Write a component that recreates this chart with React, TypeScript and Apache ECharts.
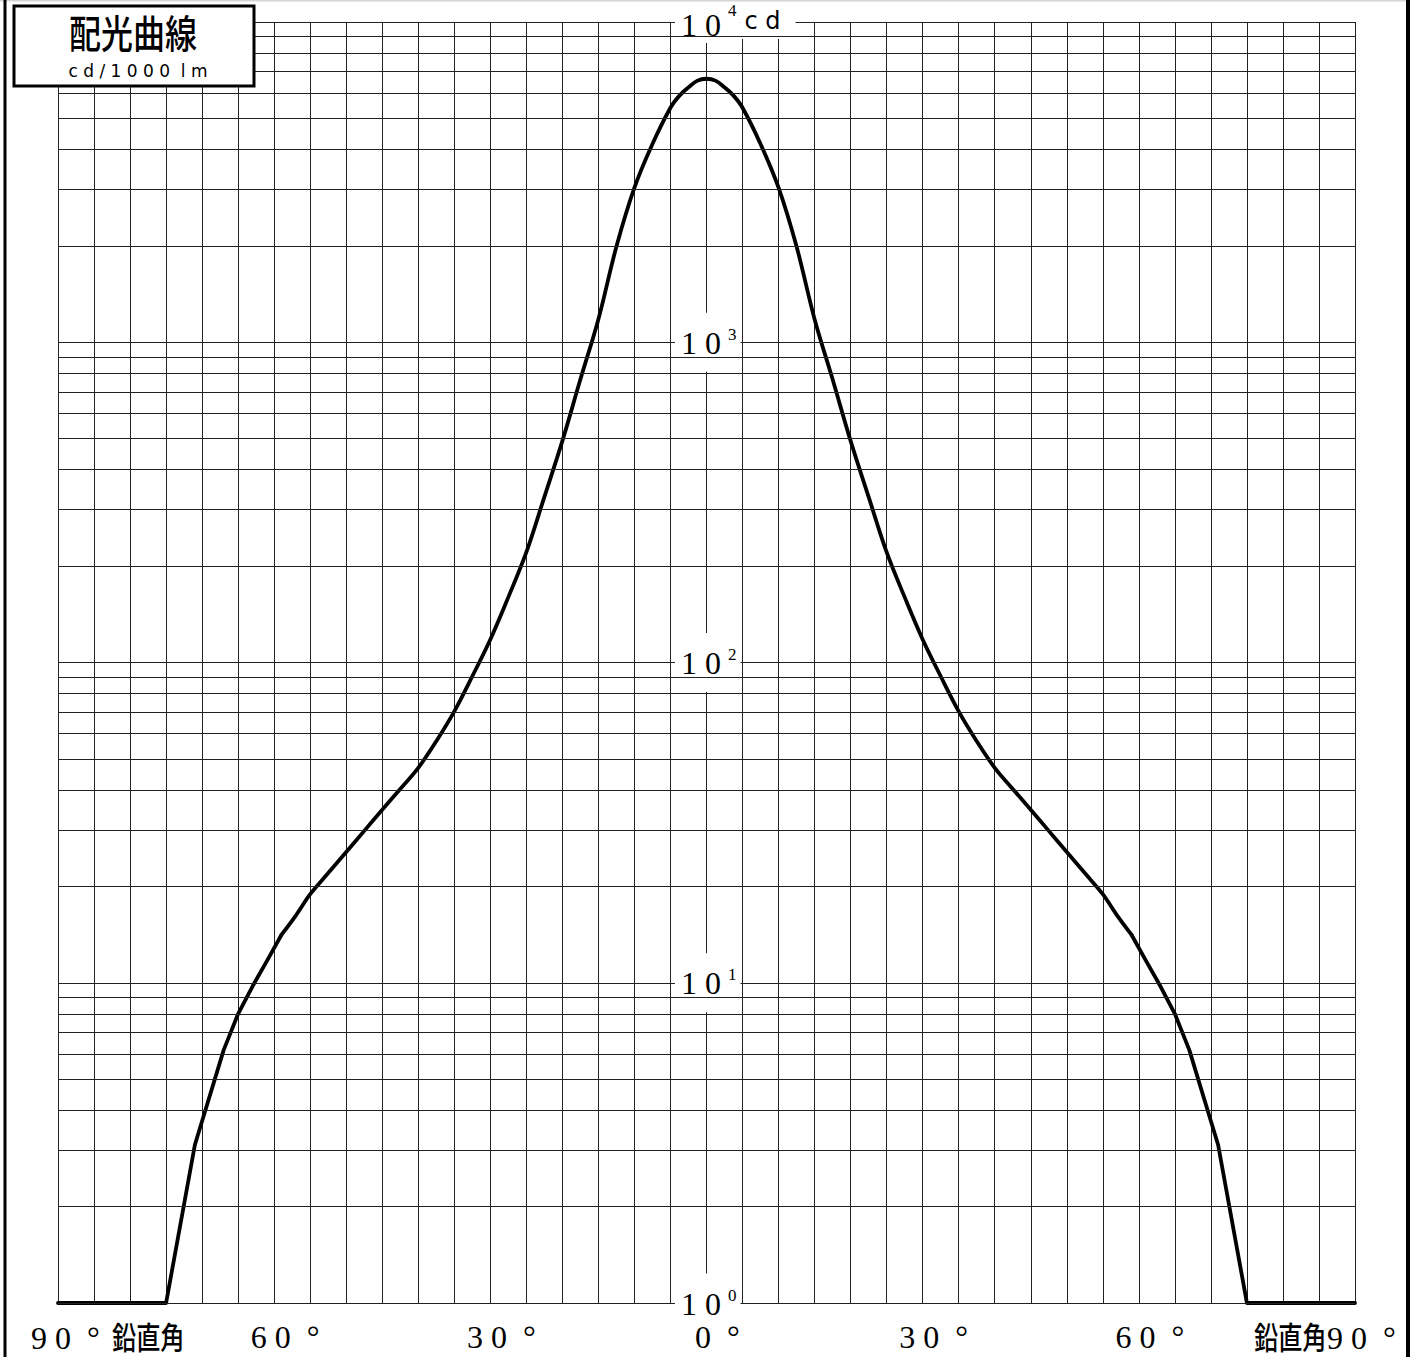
import { useEffect, useRef } from "react";
import * as echarts from "echarts";

// vertical angle (deg) and luminous intensity (cd/1000 lm)
const angles = [
  -90, -85, -80, -75, -71, -67, -65, -63, -61, -59, -57, -55, -52.5, -50, -47.5, -45, -42.5, -40,
  -37.5, -35, -32.5, -30, -27.5, -25, -22.5, -20, -17.5, -15, -12.5, -10, -7.5, -5, -3.75, -2.5,
  -1.25, 0, 1.25, 2.5, 3.75, 5, 7.5, 10, 12.5, 15, 17.5, 20, 22.5, 25, 27.5, 30, 32.5, 35, 37.5,
  40, 42.5, 45, 47.5, 50, 52.5, 55, 57, 59, 61, 63, 65, 67, 71, 75, 80, 85, 90,
];
const intensity = [
  1, 1, 1, 1, 3.12, 6.17, 8.0, 9.75, 11.7, 14.1, 16.2, 18.9, 22.0, 25.6, 29.8, 34.7, 40.3, 46.9,
  56.8, 70.4, 90.6, 118, 160, 221, 329, 492, 766, 1180, 1990, 3040, 4160, 5400, 5890, 6250,
  6560, 6650, 6560, 6250, 5890, 5400, 4160, 3040, 1990, 1180, 766, 492, 329, 221, 160, 118, 90.6,
  70.4, 56.8, 46.9, 40.3, 34.7, 29.8, 25.6, 22.0, 18.9, 16.2, 14.1, 11.7, 9.75, 8.0, 6.17, 3.12, 1,
  1, 1, 1,
];
// angles bounding the smoothly drawn central part of the curve
const smoothFrom = -59;
const smoothTo = 59;

const xTickValues = [-60, -30, 0, 30, 60];
const xTickLabels = ["6 0  °", "3 0  °", "0  °", "3 0  °", "6 0  °"];
const yExponents = ["0", "1", "2", "3", "4"];
const yBaseLabel = "1 0";
const yUnitLabel = "c d";
const minorGridValues = [
  2, 3, 4, 5, 6, 7, 8, 9, 20, 30, 40, 50, 60, 70, 80, 90, 200, 300, 400, 500, 600, 700, 800, 900,
  2000, 3000, 4000, 5000, 6000, 7000, 8000, 9000,
];
const titleText = "配光曲線";
const unitText = "c d / 1 0 0 0  l m";
const endWord = "鉛直角";
const endAngle = "9 0  °";

const SERIF = "'Liberation Serif', 'DejaVu Serif', serif";
const CJK = "'Noto Sans CJK JP', 'Noto Sans CJK SC', sans-serif";
const GRID = "#222";

export default function App() {
  const ref = useRef<HTMLDivElement>(null);
  useEffect(() => {
    if (!ref.current) return;
    const chart = echarts.init(ref.current, undefined, { renderer: "svg" });
    const pts = angles.map((a, i) => [a, intensity[i]]);
    const leftTail = pts.filter((p) => p[0] <= smoothFrom);
    const center = pts.filter((p) => p[0] >= smoothFrom && p[0] <= smoothTo);
    const rightTail = pts.filter((p) => p[0] >= smoothTo);
    const lineBase = {
      type: "line",
      xAxisIndex: 0,
      yAxisIndex: 0,
      z: 2,
      showSymbol: false,
      symbol: "none",
      lineStyle: { color: "#000", width: 3.8, cap: "round", join: "round" },
      clip: true,
    };
    const option: any = {
      animation: false,
      backgroundColor: "#fff",
      grid: { left: 58, top: 22, width: 1297, height: 1281, containLabel: false, outerBoundsMode: "none" },
      xAxis: [
        {
          type: "value",
          position: "bottom",
          min: -90,
          max: 90,
          interval: 5,
          z: 0,
          axisLine: { show: false, onZero: false },
          axisTick: { show: false },
          axisLabel: { show: false },
          splitLine: { show: true, lineStyle: { color: GRID, width: 1 } },
        },
        {
          type: "value",
          position: "bottom",
          min: -90,
          max: 90,
          interval: 5,
          z: 6,
          axisLine: { show: false, onZero: false },
          axisTick: { show: false },
          splitLine: { show: false },
          axisLabel: {
            show: true,
            margin: 18,
            fontFamily: SERIF,
            fontSize: 32,
            lineHeight: 32,
            color: "#000",
            padding: [0, 0, 0, 22],
            showMinLabel: true,
            showMaxLabel: true,
            formatter: (v: number) => {
              const i = xTickValues.indexOf(Math.round(v));
              return i >= 0 ? xTickLabels[i] : "";
            },
          },
        },
      ],
      yAxis: {
        type: "log",
        logBase: 10,
        min: 1,
        max: 10000,
        position: "left",
        offset: -648,
        z: 3,
        axisLine: { show: false, onZero: false },
        axisTick: { show: false },
        splitLine: { show: true, lineStyle: { color: GRID, width: 1 } },
        axisLabel: {
          show: true,
          align: "left",
          margin: 31,
          showMinLabel: true,
          showMaxLabel: true,
          formatter: (v: number) => {
            const e = Math.round(Math.log10(v));
            if (e === 4) return `{b4|${yBaseLabel}}{s4|${yExponents[e]}}{u|${yUnitLabel}}`;
            return `{b|${yBaseLabel}}{s|${yExponents[e]}}`;
          },
          rich: {
            b: { fontFamily: SERIF, fontSize: 32, lineHeight: 34, color: "#000", backgroundColor: "#fff", padding: [14, 2, 13, 6] },
            s: { fontFamily: SERIF, fontSize: 17, lineHeight: 17, color: "#000", backgroundColor: "#fff", padding: [14, 4, 30, 5] },
            b4: { fontFamily: SERIF, fontSize: 32, lineHeight: 30, color: "#000", backgroundColor: "#fff", padding: [8, 2, 2, 6] },
            s4: { fontFamily: SERIF, fontSize: 17, lineHeight: 17, color: "#000", backgroundColor: "#fff", padding: [0, 4, 23, 5] },
            u: { fontFamily: "'DejaVu Sans', sans-serif", fontSize: 24, lineHeight: 30, color: "#000", backgroundColor: "#fff", padding: [4, 15, 6, 4] },
          },
        },
      },
      series: [
        {
          ...lineBase,
          name: "tailL",
          data: leftTail,
          smooth: false,
          markLine: {
            silent: true,
            symbol: ["none", "none"],
            label: { show: false },
            emphasis: { disabled: true },
            lineStyle: { color: GRID, width: 1, type: "solid" },
            data: minorGridValues.map((v) => ({ yAxis: v })),
          },
        },
        { ...lineBase, name: "center", data: center, smooth: 0.35 },
        { ...lineBase, name: "tailR", data: rightTail, smooth: false },
      ],
      graphic: [
        { type: "rect", z: 10, shape: { x: 0, y: 0, width: 1410, height: 1.5 }, style: { fill: "#d6d6d6" } },
        { type: "rect", z: 10, shape: { x: 3.5, y: 0, width: 3, height: 1357 }, style: { fill: "#000" } },
        { type: "rect", z: 10, shape: { x: 1406, y: 0, width: 4, height: 1357 }, style: { fill: "#000" } },
        {
          type: "rect",
          z: 10,
          shape: { x: 14, y: 6, width: 240, height: 80 },
          style: { fill: "#fff", stroke: "#000", lineWidth: 3 },
        },
        {
          type: "text",
          z: 11,
          x: 133,
          y: 31,
          scaleX: 0.82,
          style: { text: titleText, font: `500 39px ${CJK}`, fill: "#000", align: "center", verticalAlign: "middle" },
        },
        {
          type: "text",
          z: 11,
          x: 138,
          y: 71,
          style: { text: unitText, font: "17px 'DejaVu Sans', sans-serif", fill: "#000", align: "center", verticalAlign: "middle" },
        },
        {
          type: "text",
          z: 11,
          x: 31,
          y: 1338,
          style: { text: endAngle, font: `32px ${SERIF}`, fill: "#000", align: "left", verticalAlign: "middle" },
        },
        {
          type: "text",
          z: 11,
          x: 112,
          y: 1336,
          scaleX: 0.78,
          style: { text: endWord, font: `500 31px ${CJK}`, fill: "#000", align: "left", verticalAlign: "middle" },
        },
        {
          type: "text",
          z: 11,
          x: 1254,
          y: 1336,
          scaleX: 0.78,
          style: { text: endWord, font: `500 31px ${CJK}`, fill: "#000", align: "left", verticalAlign: "middle" },
        },
        {
          type: "text",
          z: 11,
          x: 1327,
          y: 1338,
          style: { text: endAngle, font: `32px ${SERIF}`, fill: "#000", align: "left", verticalAlign: "middle" },
        },
      ],
    };
    chart.setOption(option);
    return () => chart.dispose();
  }, []);
  return (
    <div
      ref={ref}
      style={{ position: "absolute", left: 0, top: 0, width: 1410, height: 1357, background: "#fff" }}
    />
  );
}
